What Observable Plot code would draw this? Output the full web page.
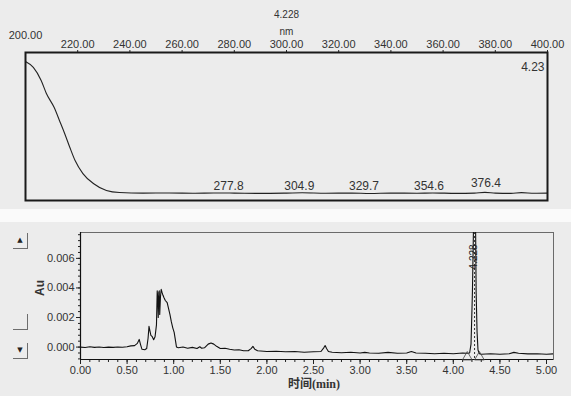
<!DOCTYPE html>
<html><head><meta charset="utf-8">
<script src="https://cdn.jsdelivr.net/npm/d3@7"></script>
<script src="https://cdn.jsdelivr.net/npm/@observablehq/plot@0.6"></script>
<style>
body{margin:0;background:#ececec;}
#wrap{position:relative;width:571px;height:396px;background:#ececec;overflow:hidden;font-family:"Liberation Sans",Arial,sans-serif;}
#strip{position:absolute;left:0;top:209px;width:571px;height:13px;background:#fafafa;}
#top{position:absolute;left:0;top:0;}
#bot{position:absolute;left:0;top:222px;}
.btn{position:absolute;left:13px;width:14px;height:15px;border-right:1px solid #6d6d6d;border-bottom:1px solid #6d6d6d;font-size:7px;text-align:center;line-height:15px;color:#222;font-family:"DejaVu Sans",sans-serif;}
</style></head>
<body><div id="wrap"><div id="top"></div><div id="strip"></div><div id="bot"></div>
<div class="btn" style="top:233px">▲</div>
<div class="btn" style="top:314px"></div>
<div class="btn" style="top:343px">▼</div>
</div>
<script>
// ---- UV spectrum (top panel) ----
const specNm = [200, 203, 206, 208, 211, 213, 215, 217, 219, 222, 226, 231, 236, 245, 255, 265, 272, 280, 290, 300, 306, 315, 325, 332, 340, 350, 356, 365, 372, 376, 380, 386, 390, 395, 400];
const specAbs = [0.939, 0.899, 0.811, 0.723, 0.628, 0.541, 0.453, 0.358, 0.270, 0.182, 0.115, 0.068, 0.054, 0.050, 0.051, 0.049, 0.051, 0.050, 0.048, 0.050, 0.052, 0.049, 0.050, 0.047, 0.050, 0.049, 0.051, 0.048, 0.050, 0.055, 0.050, 0.048, 0.053, 0.049, 0.050];
const specTicks = [220, 240, 260, 280, 300, 320, 340, 360, 380, 400];
const specPeakNm = [277.8, 304.9, 329.7, 354.6, 376.4];
const specPeakY = [0.100, 0.100, 0.100, 0.100, 0.115];

// ---- Chromatogram (bottom panel) ----
const chromT = [0.00,0.05,0.10,0.15,0.20,0.25,0.30,0.35,0.40,0.45,0.50,0.54,0.58,0.61,0.63,0.645,0.66,0.69,0.71,0.725,0.735,0.745,0.755,0.77,0.785,0.80,0.815,0.823,0.829,0.834,0.840,0.845,0.850,0.858,0.866,0.875,0.885,0.895,0.91,0.93,0.945,0.96,0.975,0.99,1.005,1.02,1.03,1.05,1.10,1.15,1.20,1.25,1.28,1.30,1.33,1.37,1.40,1.43,1.46,1.50,1.55,1.60,1.65,1.70,1.75,1.80,1.83,1.85,1.87,1.90,2.00,2.10,2.20,2.30,2.40,2.50,2.58,2.61,2.625,2.64,2.66,2.70,2.80,2.90,3.00,3.05,3.10,3.20,3.30,3.40,3.50,3.55,3.60,3.70,3.80,3.90,4.00,4.10,4.15,4.175,4.19,4.20,4.205,4.215,4.228,4.24,4.245,4.255,4.265,4.28,4.30,4.40,4.50,4.60,4.65,4.70,4.80,4.90,5.00,5.07];
const chromAu = [0.00000,-0.00003,0.00002,-0.00002,0.00001,-0.00003,0.00000,-0.00002,0.00001,-0.00001,0.00002,0.00008,0.00010,0.00025,0.00052,0.00015,-0.00015,-0.00018,-0.00010,0.00060,0.00140,0.00110,0.00080,0.00070,0.00050,0.00070,0.00150,0.00380,0.00330,0.00200,0.00370,0.00380,0.00220,0.00340,0.00390,0.00370,0.00350,0.00335,0.00315,0.00300,0.00260,0.00220,0.00170,0.00130,0.00100,0.00040,0.00000,-0.00005,0.00000,-0.00008,-0.00002,-0.00010,0.00002,-0.00008,-0.00005,0.00020,0.00028,0.00020,0.00005,-0.00010,-0.00008,-0.00015,-0.00020,-0.00018,-0.00025,-0.00025,-0.00010,0.00005,-0.00015,-0.00025,-0.00030,-0.00028,-0.00032,-0.00030,-0.00035,-0.00032,-0.00030,-0.00005,0.00010,-0.00010,-0.00030,-0.00035,-0.00038,-0.00035,-0.00040,-0.00036,-0.00040,-0.00042,-0.00036,-0.00042,-0.00040,-0.00030,-0.00040,-0.00042,-0.00045,-0.00042,-0.00045,-0.00040,-0.00042,-0.00040,0.00020,0.00250,0.00370,0.00750,0.01300,0.00750,0.00370,0.00100,-0.00020,-0.00045,-0.00048,-0.00045,-0.00048,-0.00045,-0.00036,-0.00042,-0.00046,-0.00045,-0.00048,-0.00046];
const timeTicks = [0, 0.5, 1.0, 1.5, 2.0, 2.5, 3.0, 3.5, 4.0, 4.5, 5.0];
const auTicks = [0, 0.002, 0.004, 0.006];
const peakRT = [4.228];
const peakLabel = ["4.228"];
const baselineMarks = [4.15, 4.28];

const font = "Liberation Sans, Arial, sans-serif";

const spec = specNm.map((nm, i) => ({nm, a: specAbs[i]}));
const specLabels = specPeakNm.map((nm, i) => ({nm, y: specPeakY[i], t: nm.toFixed(1)}));

const topPlot = Plot.plot({
  width: 571, height: 209,
  marginLeft: 25, marginRight: 24, marginTop: 52, marginBottom: 9,
  style: {background: "transparent", fontFamily: font, fontSize: "11px", color: "#333", overflow: "visible"},
  x: {domain: [200, 400], axis: null},
  y: {domain: [0, 1], axis: null},
  marks: [
    Plot.axisX({anchor: "top", ticks: specTicks, tickFormat: d => d.toFixed(2), tickSize: 3, tickPadding: 2, label: null, fontSize: 11, stroke: "#222"}),
    Plot.text(["200.00"], {x: 200, frameAnchor: "top", dy: -21, fontSize: 11, fill: "#333"}),
    Plot.text(["4.228"], {frameAnchor: "top", dy: -42, fontSize: 10, fill: "#333"}),
    Plot.text(["nm"], {frameAnchor: "top", dy: -25, fontSize: 10, fill: "#333"}),
    Plot.line(spec, {x: "nm", y: "a", stroke: "#222", strokeWidth: 1.1, curve: "monotone-x"}),
    Plot.text(specLabels, {x: "nm", y: "y", text: "t", fontSize: 12, fill: "#333"}),
    Plot.text(["4.23"], {frameAnchor: "top-right", dx: -3, dy: 10, textAnchor: "end", fontSize: 12, fill: "#333"}),
    Plot.frame({stroke: "#1a1a1a", strokeWidth: 2})
  ]
});
document.getElementById("top").appendChild(topPlot);

const chrom = chromT.map((t, i) => ({t, au: chromAu[i]}));
const yMin = -0.00084, yMax = 0.00775;
const minorX = d3.range(0, 51).map(i => i / 10);
const minorY = d3.range(-2, 20).map(i => i * 0.0004);

const botPlot = Plot.plot({
  width: 571, height: 174,
  marginLeft: 80, marginRight: 18, marginTop: 10, marginBottom: 37,
  style: {background: "transparent", fontFamily: font, fontSize: "11px", color: "#333", overflow: "visible"},
  x: {domain: [0, 5.075], axis: null},
  y: {domain: [yMin, yMax], axis: null},
  marks: [
    Plot.frame({stroke: "#6a6a6a", strokeWidth: 1}),
    Plot.axisX({anchor: "bottom", ticks: minorX, tickSize: 3, tickFormat: () => "", label: null, stroke: "#222"}),
    Plot.axisX({anchor: "bottom", ticks: timeTicks, tickSize: 5, tickPadding: 2, tickFormat: d => d.toFixed(2), label: null, fontSize: 11, stroke: "#222"}),
    Plot.axisY({anchor: "left", ticks: minorY, tickSize: 2, tickFormat: () => "", label: null, stroke: "#222"}),
    Plot.axisY({anchor: "left", ticks: auTicks, tickSize: 4, tickPadding: 2, tickFormat: d => d.toFixed(3), label: null, fontSize: 11, stroke: "#222"}),
    Plot.ruleY([yMin], {stroke: "#111", strokeWidth: 1.2}),
    Plot.ruleX([0], {stroke: "#111", strokeWidth: 1.2}),
    Plot.ruleX(peakRT, {stroke: "#333", strokeDasharray: "2,2", strokeWidth: 1}),
    Plot.line(chrom, {x: "t", y: "au", stroke: "#111", strokeWidth: 1.1, clip: true}),
    Plot.dot(baselineMarks, {x: d => d, y: -0.00068, symbol: "triangle", r: 3.6, stroke: "#444", fill: "none", strokeWidth: 0.8}),
    Plot.text(peakLabel, {x: peakRT[0], y: 0.0061, rotate: -90, dx: -1, fontSize: 10, fill: "#222"}),
    Plot.text(["Au"], {frameAnchor: "left", dx: -40, rotate: -90, fontWeight: "bold", fontSize: 12, fill: "#333"}),
    Plot.text(["时间(min)"], {frameAnchor: "bottom", dx: -3, dy: 28, fontWeight: "bold", fontSize: 12, fill: "#333", fontFamily: "Liberation Serif, Noto Sans CJK SC, serif"})
  ]
});
document.getElementById("bot").appendChild(botPlot);
</script>
</body></html>
